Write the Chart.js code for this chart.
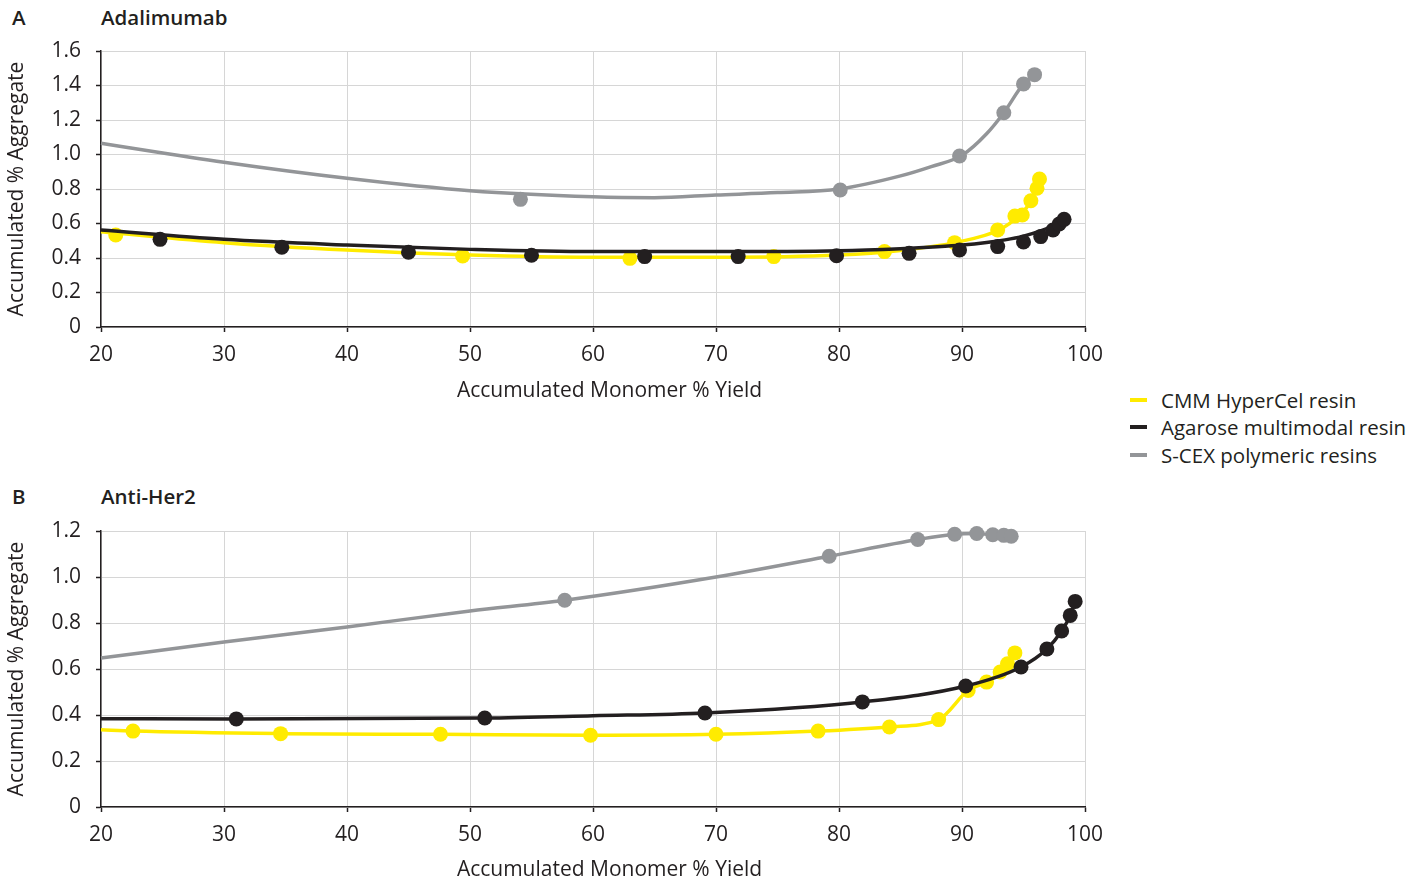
<!DOCTYPE html>
<html>
<head>
<meta charset="utf-8">
<script src="https://cdn.jsdelivr.net/npm/chart.js@4.4.1/dist/chart.umd.min.js"></script>
<style>
  html, body { margin: 0; padding: 0; background: #ffffff; }
  body { width: 1426px; height: 880px; position: relative; overflow: hidden; font-family: "Open Sans", Lato, sans-serif; color: #231f20; }
  .wrap { position: absolute; left: 0; width: 1120px; height: 410px; }
  .wrap canvas { display: block; }
  .plabel { position: absolute; font-size: 20.5px; font-weight: 600; line-height: 1; }
  .xtitle { position: absolute; left: 609.5px; transform: translateX(-50%); font-size: 21px; line-height: 21px; white-space: nowrap; }
  .legend { position: absolute; left: 1130px; top: 386px; font-size: 20.5px; }
  .legend .row { height: 27.5px; display: flex; align-items: center; white-space: nowrap; }
  .legend .sw { width: 17px; height: 4px; margin-right: 14px; }
</style>
</head>
<body>
<div class="plabel" style="left:12px; top:7px;">A</div>
<div class="plabel" style="left:101px; top:7px;">Adalimumab</div>
<div class="plabel" style="left:12px; top:486px;">B</div>
<div class="plabel" style="left:101px; top:486px;">Anti-Her2</div>

<div class="wrap" style="top:0px;"><canvas id="chartA" width="1120" height="410"></canvas></div>
<div class="wrap" style="top:480px;"><canvas id="chartB" width="1120" height="410"></canvas></div>
<div class="xtitle" id="xtA" style="top:379px;"></div>
<div class="xtitle" id="xtB" style="top:858px;"></div>
<div class="legend" id="legend"></div>

<script>
// ---------- data ----------
const seriesNames = ['CMM HyperCel resin', 'Agarose multimodal resin', 'S-CEX polymeric resins'];
const xTickValues = [20, 30, 40, 50, 60, 70, 80, 90, 100];
const yTicksA = [0, 0.2, 0.4, 0.6, 0.8, 1.0, 1.2, 1.4, 1.6];
const yTicksB = [0, 0.2, 0.4, 0.6, 0.8, 1.0, 1.2];
const xTitle = 'Accumulated Monomer % Yield';
const yTitle = 'Accumulated % Aggregate';

// Panel A – Adalimumab : measured points [yield, aggregate]
const adaCmmPoints  = [[21.2,0.533],[49.4,0.412],[63.0,0.398],[74.7,0.408],[83.7,0.437],[89.4,0.489],[92.9,0.562],[94.3,0.643],[94.9,0.649],[95.6,0.732],[96.1,0.804],[96.3,0.858]];
const adaAgaPoints  = [[24.8,0.508],[34.7,0.462],[45.0,0.433],[55.0,0.416],[64.2,0.408],[71.8,0.408],[79.8,0.413],[85.7,0.427],[89.8,0.446],[92.9,0.466],[95.0,0.493],[96.4,0.524],[97.4,0.562],[97.9,0.597],[98.3,0.624]];
const adaScexPoints = [[54.1,0.740],[80.1,0.794],[89.8,0.991],[93.4,1.242],[95.0,1.409],[95.9,1.463]];
// Panel A – trend curves
const adaCmmCurve  = [[20,0.552],[30,0.489],[40,0.446],[50,0.417],[60,0.404],[70,0.404],[80,0.417],[85,0.444],[89.4,0.489],[93,0.562],[94.6,0.643],[95.6,0.730],[96.3,0.858]];
const adaAgaCurve  = [[20,0.562],[30,0.508],[40,0.475],[50,0.450],[60,0.437],[70,0.437],[80,0.442],[85,0.454],[88,0.465],[90,0.475],[92,0.490],[93.5,0.505],[95,0.527],[96.5,0.560],[97.5,0.590],[98.3,0.630]];
const adaScexCurve = [[20,1.065],[30,0.955],[40,0.862],[50,0.790],[60,0.755],[65,0.750],[70,0.765],[75,0.779],[80,0.800],[85,0.876],[87.5,0.930],[90,0.995],[92,1.120],[93.4,1.242],[95,1.409],[95.9,1.463]];

// Panel B – Anti-Her2 : measured points
const herCmmPoints  = [[22.6,0.330],[34.6,0.319],[47.6,0.316],[59.8,0.312],[70.0,0.316],[78.3,0.330],[84.1,0.348],[88.1,0.380],[90.5,0.507],[92.0,0.543],[93.1,0.587],[93.7,0.623],[94.3,0.670]];
const herAgaPoints  = [[31.0,0.383],[51.2,0.387],[69.1,0.409],[81.9,0.457],[90.3,0.526],[94.8,0.609],[96.9,0.687],[98.1,0.765],[98.8,0.833],[99.2,0.894]];
const herScexPoints = [[57.7,0.899],[79.2,1.090],[86.4,1.163],[89.4,1.186],[91.2,1.189],[92.5,1.184],[93.4,1.181],[94.0,1.177]];
// Panel B – curves
const herCmmCurve  = [[20,0.336],[22.6,0.330],[34.6,0.319],[47.6,0.316],[59.8,0.312],[70,0.316],[78.3,0.330],[84.1,0.348],[88.1,0.380],[90.5,0.507],[92,0.543],[93.1,0.587],[93.7,0.623],[94.3,0.670]];
const herAgaCurve  = [[20,0.384],[31,0.383],[51.2,0.387],[60,0.397],[69.1,0.409],[81.9,0.457],[90.3,0.526],[94.8,0.609],[96.9,0.687],[98.1,0.765],[98.8,0.833],[99.2,0.894]];
const herScexCurve = [[20,0.648],[30,0.717],[40,0.783],[50,0.852],[57.7,0.899],[70,1.000],[79.2,1.090],[86.4,1.163],[89.4,1.186],[91.2,1.189],[92.5,1.184],[93.4,1.181],[94.0,1.177]];

// ---------- styling ----------
const colors = ['#ffeb00', '#231f20', '#939598'];
const ink = '#231f20';
const FONT = '"Open Sans", Lato, sans-serif';

function toXY(arr) { return arr.map(p => ({ x: p[0], y: p[1] })); }

function buildDatasets(curves, points) {
  const ds = [];
  // draw order: index 0 on top -> black first, then yellow, then gray
  [1, 0, 2].forEach(i => {
    ds.push({
      label: seriesNames[i] + ' points',
      data: toXY(points[i]),
      showLine: false,
      clip: false,
      pointRadius: 7.5,
      pointHoverRadius: 7.5,
      pointBackgroundColor: colors[i],
      pointBorderWidth: 0,
      borderColor: colors[i]
    });
    ds.push({
      label: seriesNames[i],
      data: toXY(curves[i]),
      showLine: true,
      clip: false,
      pointRadius: 0,
      pointHoverRadius: 0,
      borderColor: colors[i],
      borderWidth: 3.5,
      cubicInterpolationMode: 'monotone',
      fill: false
    });
  });
  return ds;
}

function makeChart(id, curves, points, yTicks) {
  const yMax = yTicks[yTicks.length - 1];
  return new Chart(document.getElementById(id), {
    type: 'scatter',
    data: { datasets: buildDatasets(curves, points) },
    options: {
      responsive: false,
      animation: false,
      events: [],
      layout: { padding: { top: 51, right: 35, bottom: 0, left: 0 } },
      plugins: { legend: { display: false }, tooltip: { enabled: false } },
      scales: {
        x: {
          type: 'linear',
          min: xTickValues[0],
          max: xTickValues[xTickValues.length - 1],
          afterBuildTicks: s => { s.ticks = xTickValues.map(v => ({ value: v })); },
          afterFit: s => { s.height = 83; },
          grid: { color: '#d6d6d6', lineWidth: 1, tickLength: 5, tickColor: ink, tickWidth: 1.5 },
          border: { color: ink, width: 1.5 },
          ticks: { color: ink, font: { family: FONT, size: 21 }, padding: 10, maxRotation: 0, autoSkip: false },
          title: { display: false }
        },
        y: {
          type: 'linear',
          min: 0,
          max: yMax,
          afterBuildTicks: s => { s.ticks = yTicks.map(v => ({ value: v })); },
          afterFit: s => { s.width = 101; },
          grid: { color: '#d6d6d6', lineWidth: 1, tickLength: 5, tickColor: ink, tickWidth: 1.5 },
          border: { color: ink, width: 1.5 },
          ticks: { color: ink, font: { family: FONT, size: 21 }, padding: 15, autoSkip: false,
                   callback: v => (v === 0 ? '0' : Number(v).toFixed(1)) },
          title: { display: true, text: yTitle, color: ink, font: { family: FONT, size: 21 }, padding: { top: 4, bottom: 0 } }
        }
      }
    }
  });
}

makeChart('chartA', [adaCmmCurve, adaAgaCurve, adaScexCurve], [adaCmmPoints, adaAgaPoints, adaScexPoints], yTicksA);
makeChart('chartB', [herCmmCurve, herAgaCurve, herScexCurve], [herCmmPoints, herAgaPoints, herScexPoints], yTicksB);

document.getElementById('xtA').textContent = xTitle;
document.getElementById('xtB').textContent = xTitle;

// legend
const lg = document.getElementById('legend');
seriesNames.forEach((name, i) => {
  const row = document.createElement('div');
  row.className = 'row';
  const sw = document.createElement('span');
  sw.className = 'sw';
  sw.style.background = colors[i];
  const tx = document.createElement('span');
  tx.textContent = name;
  row.appendChild(sw);
  row.appendChild(tx);
  lg.appendChild(row);
});
</script>
</body>
</html>
